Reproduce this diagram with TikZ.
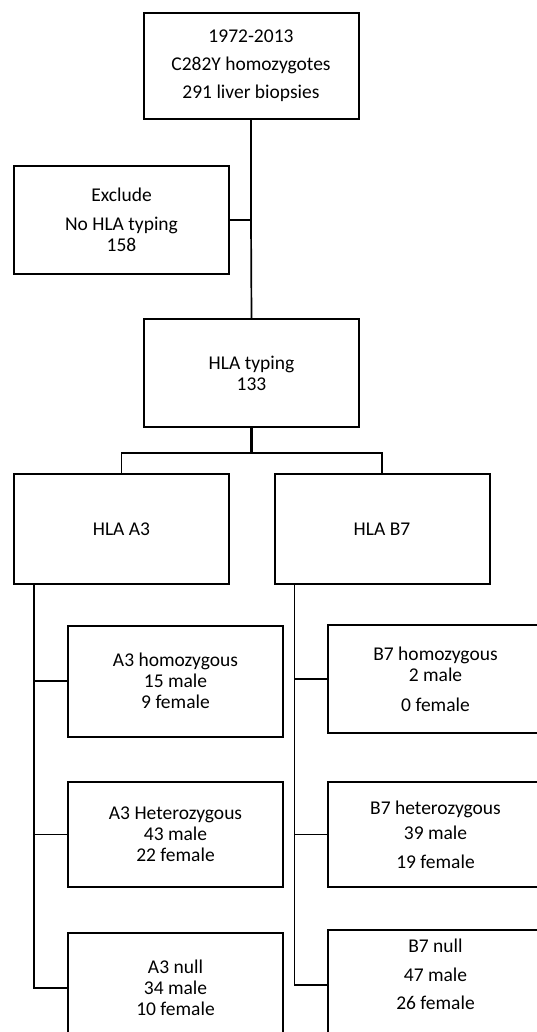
\documentclass[tikz,border=0pt]{standalone}
\usepackage{fontspec}
\setmainfont{Carlito}
\begin{document}
\begin{tikzpicture}[x=1pt,y=-1pt,
  box/.style={draw=black,line width=2pt,fill=white,minimum width=215pt,align=center,inner sep=0pt,
     font=\fontsize{19.5}{21}\selectfont},
  txt/.style={align=center,inner sep=0pt,font=\fontsize{19.5}{21}\selectfont},
  thick line/.style={line width=2.8pt},
  thin line/.style={line width=1.7pt}]
\useasboundingbox (0,0) rectangle (537,1032);
\clip (0,0) rectangle (537,1032);
\fill[white] (0,0) rectangle (537,1032);
% boxes
\node[box,minimum height=106pt] (top) at (251,66) {1972-2013\\[7pt]C282Y homozygotes\\[7pt]291 liver biopsies};
\node[box,minimum height=108pt] (excl) at (121.5,220) {Exclude\\[8pt]No HLA typing\\158};
\node[box,minimum height=108pt] (typ) at (251.5,373) {HLA typing\\133};
\node[box,minimum height=110pt] (a3) at (121.5,529) {HLA A3};
\node[box,minimum height=110pt] (b7) at (382,529) {HLA B7};
\node[box,minimum height=111pt] (a3ho) at (175.5,681) {A3 homozygous\\15 male\\9 female};
\node[box,minimum height=105pt] (a3he) at (175.5,834.5) {A3 Heterozygous\\43 male\\22 female};
\node[box,minimum height=110pt] (a3nu) at (175.5,988) {A3 null\\34 male\\10 female};
\node[box,minimum height=108pt] (b7ho) at (435.5,679) {B7 homozygous\\2 male\\[9pt]0 female};
\node[box,minimum height=105pt] (b7he) at (435.5,834.5) {B7 heterozygous\\[4pt]39 male\\[8pt]19 female};
\node[box,minimum height=110pt] (b7nu) at (435.5,985) {};
\node[txt] (b7nut) at ([yshift=11pt]b7nu.center) {B7 null\\[8pt]47 male\\[7pt]26 female};
% connectors
\coordinate (jx) at (top.south |- excl.east);
\draw[thick line] (top.south) -- (jx);
\draw[thin line] (excl.east) -- (jx) -- (typ.north);
\coordinate (bt) at ([yshift=-25pt]typ.south);
\draw[thick line] (typ.south) -- (bt);
\draw[thin line] (a3.north) |- (bt) -| (b7.north);
\coordinate (lt) at ([xshift=21pt]a3.south west);
\coordinate (lm) at (lt |- a3he.west);
\coordinate (lb) at (lt |- a3nu.west);
\draw[thick line] (lt) -- (lm);
\draw[thin line] (lm) -- (lb) -- (a3nu.west);
\draw[thin line] (lt |- a3ho.west) -- (a3ho.west);
\draw[thin line] (lm) -- (a3he.west);
\coordinate (rt) at ([xshift=21pt]b7.south west);
\coordinate (rb) at (rt |- b7nu.west);
\draw[thin line] (rt) -- (rb) -- (b7nu.west);
\draw[thin line] (rt |- b7ho.west) -- (b7ho.west);
\draw[thin line] (rt |- b7he.west) -- (b7he.west);
\end{tikzpicture}
\end{document}
